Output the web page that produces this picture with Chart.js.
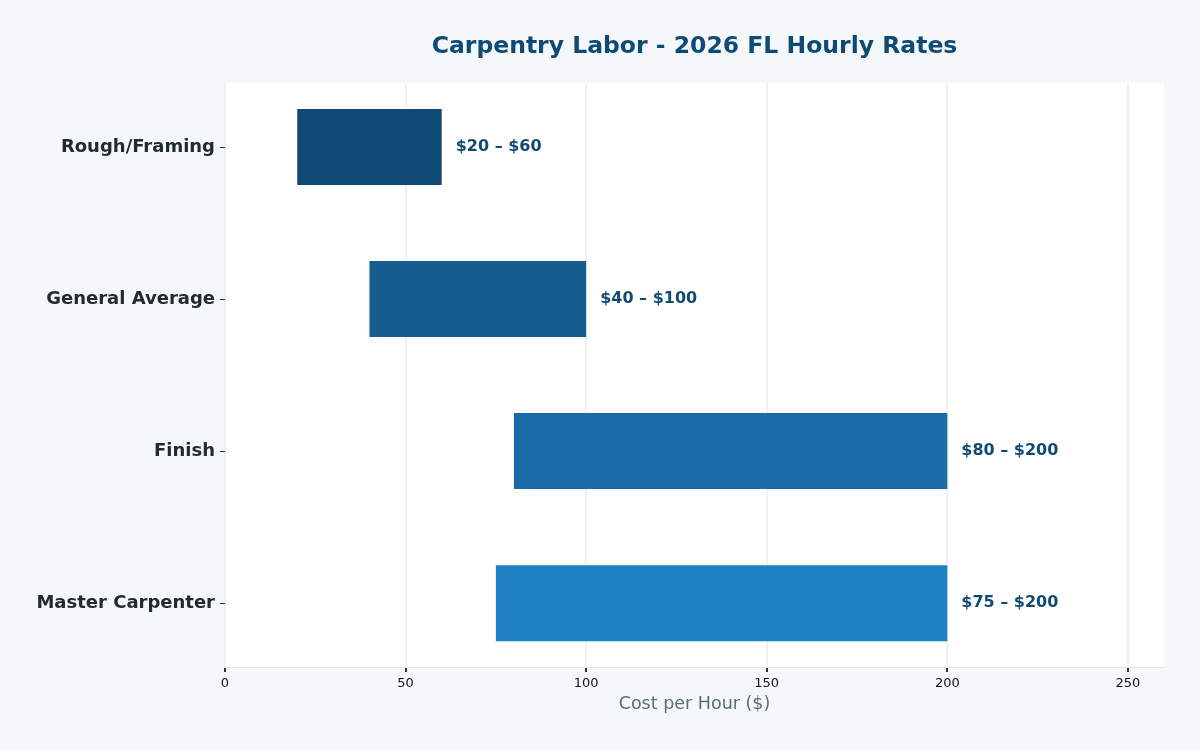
<!DOCTYPE html>
<html>
<head>
<meta charset="utf-8">
<script src="https://cdn.jsdelivr.net/npm/chart.js@4.4.1/dist/chart.umd.min.js"></script>
<style>
  html, body { margin: 0; padding: 0; background: #f5f8fb; }
  #wrap { width: 1200px; height: 750px; }
</style>
</head>
<body>
<div id="wrap"><canvas id="chart" width="1200" height="750"></canvas></div>
<script>
const categories = ["Rough/Framing", "General Average", "Finish", "Master Carpenter"];
const lowRates = [20, 40, 80, 75];
const highRates = [60, 100, 200, 200];
const barColors = ["#0f4a75", "#155d90", "#1b6ba8", "#1e7fc1"];
const xTicks = [0, 50, 100, 150, 200, 250];

const plotBg = {
  id: "plotBg",
  beforeDraw(chart) {
    const { ctx, chartArea: a } = chart;
    ctx.save();
    ctx.fillStyle = "#ffffff";
    ctx.fillRect(a.left, a.top, a.right - a.left, a.bottom - a.top);
    ctx.restore();
  }
};

const rangeLabels = {
  id: "rangeLabels",
  afterDatasetsDraw(chart) {
    const { ctx, scales } = chart;
    ctx.save();
    ctx.font = "bold 16px 'DejaVu Sans'";
    ctx.fillStyle = "#0f4a75";
    ctx.textBaseline = "middle";
    ctx.textAlign = "left";
    categories.forEach((c, i) => {
      const x = scales.x.getPixelForValue(highRates[i]) + 14;
      const y = scales.y.getPixelForValue(i);
      ctx.fillText("$" + lowRates[i] + " – $" + highRates[i], x, y);
    });
    ctx.restore();
  }
};

new Chart(document.getElementById("chart"), {
  type: "bar",
  data: {
    datasets: [{
      data: categories.map((c, i) => ({ y: i, x: [lowRates[i], highRates[i]] })),
      backgroundColor: barColors,
      borderWidth: 0,
      borderSkipped: false,
      barPercentage: 0.5,
      categoryPercentage: 1
    }]
  },
  options: {
    indexAxis: "y",
    responsive: false,
    animation: false,
    layout: { padding: { left: 0, right: 36, top: 0, bottom: 0 } },
    plugins: {
      legend: { display: false },
      tooltip: { enabled: false },
      title: {
        display: true,
        text: "Carpentry Labor - 2026 FL Hourly Rates",
        fullSize: false,
        color: "#0f4a75",
        font: { family: "'DejaVu Sans'", size: 23.5, weight: "bold" },
        padding: { top: 33, bottom: 22 }
      }
    },
    scales: {
      x: {
        type: "linear",
        min: 0,
        max: 260,
        afterBuildTicks(scale) { scale.ticks = xTicks.map(v => ({ value: v })); },
        afterFit(scale) { scale.height = 83; },
        grid: { color: "#edf1f5", lineWidth: 2, tickLength: 5, tickColor: "#333333" },
        border: { color: "#dde3ea" },
        ticks: { color: "#111111", font: { family: "'DejaVu Sans'", size: 13 }, padding: 4 },
        title: {
          display: true,
          text: "Cost per Hour ($)",
          color: "#5a6b7d",
          font: { family: "'DejaVu Sans'", size: 17.5 },
          padding: { top: 4, bottom: 35 }
        }
      },
      y: {
        type: "linear",
        reverse: true,
        offset: false,
        min: -0.42,
        max: 3.42,
        afterBuildTicks(scale) { scale.ticks = categories.map((c, i) => ({ value: i })); },
        afterFit(scale) { scale.width = 225; },
        grid: { offset: false, drawOnChartArea: false, tickLength: 5, tickColor: "#333333" },
        border: { display: false },
        ticks: {
          color: "#222a33",
          font: { family: "'DejaVu Sans'", size: 18, weight: "bold" },
          padding: 5,
          callback: (v) => categories[v]
        }
      }
    }
  },
  plugins: [plotBg, rangeLabels]
});
</script>
</body>
</html>
